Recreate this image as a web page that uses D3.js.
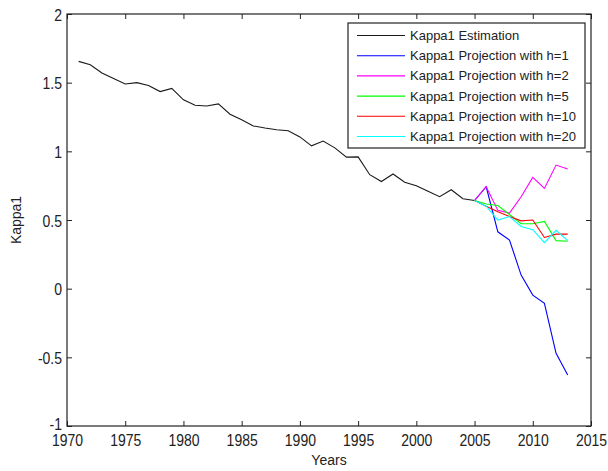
<!DOCTYPE html>
<html>
<head>
<meta charset="utf-8">
<script src="https://cdn.jsdelivr.net/npm/d3@7"></script>
<style>
  html, body { margin: 0; padding: 0; background: #fff; }
  svg { display: block; }
  text { font-family: "Liberation Sans", Arial, sans-serif; fill: #222; }
</style>
</head>
<body>
<svg id="chart" width="608" height="471"></svg>
<script>
// Kappa1 estimated series, 1971-2005
const estYears = [1971,1972,1973,1974,1975,1976,1977,1978,1979,1980,1981,1982,1983,1984,1985,1986,1987,1988,1989,1990,1991,1992,1993,1994,1995,1996,1997,1998,1999,2000,2001,2002,2003,2004,2005];
const estimation = [1.655,1.63,1.57,1.53,1.49,1.50,1.48,1.435,1.458,1.375,1.335,1.33,1.345,1.27,1.23,1.185,1.17,1.157,1.15,1.105,1.04,1.075,1.025,0.958,0.96,0.83,0.78,0.835,0.775,0.75,0.71,0.67,0.72,0.655,0.642];

// Projections for 2005-2013 with different horizons h
const projYears = [2005,2006,2007,2008,2009,2010,2011,2012,2013];
const projH1  = [0.642,0.742,0.414,0.354,0.099,-0.047,-0.107,-0.471,-0.629];
const projH2  = [0.642,0.742,0.57,0.55,0.669,0.81,0.73,0.90,0.871];
const projH5  = [0.642,0.616,0.606,0.54,0.473,0.473,0.49,0.35,0.345];
const projH10 = [0.642,0.60,0.56,0.525,0.494,0.50,0.373,0.397,0.397];
const projH20 = [0.642,0.60,0.50,0.525,0.453,0.429,0.335,0.425,0.35];

const seriesNames = ["Kappa1 Estimation","Kappa1 Projection with h=1","Kappa1 Projection with h=2","Kappa1 Projection with h=5","Kappa1 Projection with h=10","Kappa1 Projection with h=20"];
const seriesColors = ["#1a1a1a","#0000ff","#ff00ff","#00ff00","#ff0000","#00ffff"];

const yearTicks = [1970,1975,1980,1985,1990,1995,2000,2005,2010,2015];
const kappaTicks = [-1,-0.5,0,0.5,1,1.5,2];

const svg = d3.select("#chart");
const plotL = 67, plotR = 591, plotT = 14, plotB = 426;

const x = d3.scaleLinear().domain([1970, 2015]).range([plotL, plotR]);
const y = d3.scaleLinear().domain([-1, 2]).range([plotB, plotT]);

// Series lines
const series = [
  {years: estYears, values: estimation},
  {years: projYears, values: projH1},
  {years: projYears, values: projH2},
  {years: projYears, values: projH5},
  {years: projYears, values: projH10},
  {years: projYears, values: projH20}
];

const line = d3.line().x(d => x(d[0])).y(d => y(d[1]));
series.forEach((s, i) => {
  svg.append("path")
    .datum(s.years.map((yr, j) => [yr, s.values[j]]))
    .attr("fill", "none")
    .attr("stroke", seriesColors[i])
    .attr("stroke-width", 1.1)
    .attr("d", line);
});

// Axes with inward ticks on all four sides
const tickLen = 5;
const fmt = d => String(d);
const stretch = 1.2;   // tall, narrow tick digits

const gx = svg.append("g").attr("transform", `translate(0,${plotB})`)
  .call(d3.axisBottom(x).tickValues(yearTicks).tickFormat(fmt).tickSizeInner(-tickLen).tickSizeOuter(0));
const gy = svg.append("g").attr("transform", `translate(${plotL},0)`)
  .call(d3.axisLeft(y).tickValues(kappaTicks).tickFormat(fmt).tickSizeInner(-tickLen).tickSizeOuter(0));
const gt = svg.append("g").attr("transform", `translate(0,${plotT})`)
  .call(d3.axisTop(x).tickValues(yearTicks).tickFormat("").tickSizeInner(-tickLen).tickSizeOuter(0));
const gr = svg.append("g").attr("transform", `translate(${plotR},0)`)
  .call(d3.axisRight(y).tickValues(kappaTicks).tickFormat("").tickSizeInner(-tickLen).tickSizeOuter(0));

[gx, gy, gt, gr].forEach(g => {
  g.select(".domain").remove();
  g.selectAll(".tick line").attr("stroke", "#222");
  g.selectAll(".tick text").attr("font-size", 14).attr("fill", "#222")
    .attr("font-family", "'Liberation Sans', Arial, sans-serif");
});

gx.selectAll(".tick text")
  .attr("y", null).attr("dy", null)
  .attr("transform", `translate(0,20) scale(1,${stretch})`);
gy.selectAll(".tick text")
  .attr("x", null).attr("dy", null)
  .attr("transform", d => `translate(-5,${d === -1 ? 3 : 6}) scale(1,${stretch})`);

svg.append("rect")
  .attr("x", plotL).attr("y", plotT)
  .attr("width", plotR - plotL).attr("height", plotB - plotT)
  .attr("fill", "none").attr("stroke", "#222").attr("stroke-width", 1.2);

// Axis titles
svg.append("text")
  .attr("transform", `translate(${(plotL + plotR) / 2},465) scale(1,1.1)`)
  .attr("text-anchor", "middle").attr("font-size", 14)
  .text("Years");
svg.append("text")
  .attr("transform", `translate(21,${(plotT + plotB) / 2}) rotate(-90) scale(1,1.1)`)
  .attr("text-anchor", "middle").attr("font-size", 14)
  .text("Kappa1");

// Legend
const lg = svg.append("g");
lg.append("rect")
  .attr("x", 348).attr("y", 23).attr("width", 237).attr("height", 125)
  .attr("fill", "#fff").attr("stroke", "#222").attr("stroke-width", 1.2);
seriesNames.forEach((name, i) => {
  const cy = 35.5 + i * 20.2;
  lg.append("line")
    .attr("x1", 357).attr("x2", 405).attr("y1", cy).attr("y2", cy)
    .attr("stroke", seriesColors[i]).attr("stroke-width", 1.1);
  lg.append("text")
    .attr("x", 410).attr("y", cy).attr("dy", "0.35em")
    .attr("font-size", 13)
    .text(name);
});
</script>
</body>
</html>
